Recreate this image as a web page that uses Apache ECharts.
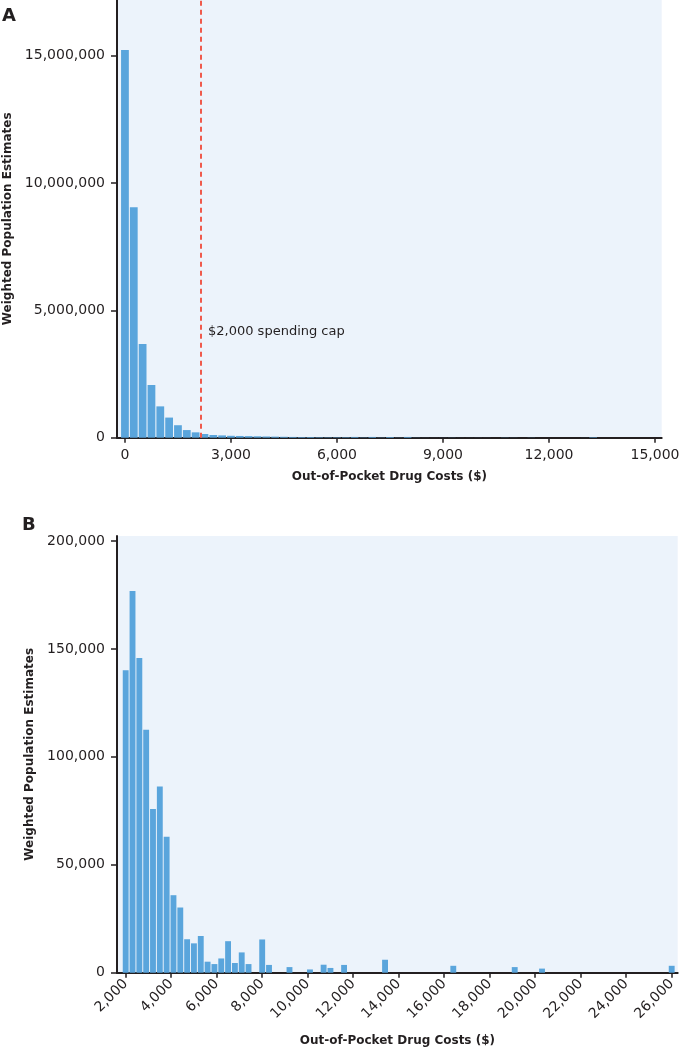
<!DOCTYPE html>
<html>
<head>
<meta charset="utf-8">
<script src="https://cdn.jsdelivr.net/npm/echarts@6/dist/echarts.min.js"></script>
<style>
  html, body { margin: 0; padding: 0; background: #ffffff; }
  #chart { width: 679px; height: 1050px; }
</style>
</head>
<body>
<div id="chart"></div>
<script>
// Panel A: bins of $250 (bin centers), weighted population estimates
const binsA = [];
for (let v = 0; v <= 15000; v += 250) binsA.push(v);
const valuesA = [
  15220000, 9050000, 3680000, 2070000, 1230000, 790000, 490000, 300000,
  210000, 145000, 106000, 90000, 75000, 68000, 62000, 55000,
  48000, 42000, 36000, 30000, 26000, 28000, 20000, 16000,
  18000, 20000, 30000, 12000, 30000, 10000, 28000, 8000,
  30000, 6000, 3000, 2000, 3000, 5000, 2000, 2000,
  3000, 2000, 1000, 6000, 4000, 1000, 5000, 1000,
  1000, 1000, 1000, 1000, 2000, 20000, 1000, 1000,
  1000, 1000, 1000, 1000, 1000
];
const ticksAx = [0, 3000, 6000, 9000, 12000, 15000];
const ticksAy = [0, 5000000, 10000000, 15000000];
const capValue = 2150;
const capLabel = '$2,000 spending cap';

// Panel B: bins of $300 from $2,000 to $26,000
const binsB = [];
for (let v = 2000; v <= 26000; v += 300) binsB.push(v);
const valuesB = [
  140100, 176800, 145800, 112600, 75800, 86200, 63000, 35900, 30200, 15500,
  13600, 17000, 5100, 4000, 6600, 14600, 4500, 9400, 4000, 0,
  15400, 3600, 0, 0, 2600, 0, 0, 1500, 0, 3700,
  2200, 0, 3600, 0, 0, 0, 0, 0, 6000, 0,
  0, 0, 0, 0, 0, 0, 0, 0, 3200, 0,
  0, 0, 0, 0, 0, 0, 0, 2600, 0, 0,
  0, 1900, 0, 0, 0, 0, 0, 0, 0, 0,
  0, 0, 0, 0, 0, 0, 0, 0, 0, 0,
  3200
];
const ticksBx = [2000, 4000, 6000, 8000, 10000, 12000, 14000, 16000, 18000, 20000, 22000, 24000, 26000];
const ticksBy = [0, 50000, 100000, 150000, 200000];

const xName = 'Out-of-Pocket Drug Costs ($)';
const yName = 'Weighted Population Estimates';

const FONT = 'DejaVu Sans';
const INK = '#231f20';
const BAR = '#5aa5dc';
const BG = '#ecf3fb';
const fmt = v => Math.round(v).toLocaleString('en-US');

function axisCommon() {
  return {
    axisLine: { show: true, onZero: false, lineStyle: { color: INK, width: 2 } },
    splitLine: { show: false },
    nameTextStyle: { fontFamily: FONT, fontWeight: 'bold', fontSize: 12, color: INK },
  };
}

const chart = echarts.init(document.getElementById('chart'), null, { renderer: 'canvas' });

const option = {
  animation: false,
  backgroundColor: '#ffffff',
  grid: [
    { left: 117, right: 17.3, top: 0, height: 437.7, show: true, backgroundColor: BG, borderWidth: 0, containLabel: false, outerBoundsMode: 'none' },
    { left: 117, right: 1.3, top: 536, height: 436.7, show: true, backgroundColor: BG, borderWidth: 0, containLabel: false, outerBoundsMode: 'none' }
  ],
  xAxis: [
    Object.assign(axisCommon(), {
      type: 'value', gridIndex: 0, min: -225, max: 15190,
      name: xName, nameLocation: 'middle', nameGap: 33,
      axisTick: { show: true, length: 5, customValues: ticksAx, lineStyle: { color: INK, width: 1.5 } },
      axisLabel: { customValues: ticksAx, formatter: fmt, fontFamily: FONT, fontSize: 14, color: INK, margin: 11 }
    }),
    Object.assign(axisCommon(), {
      type: 'value', gridIndex: 1, min: 1618, max: 26264,
      name: xName, nameLocation: 'middle', nameGap: 62,
      axisTick: { show: true, length: 5, customValues: ticksBx, lineStyle: { color: INK, width: 1.5 } },
      axisLabel: { customValues: ticksBx, formatter: fmt, rotate: 45, fontFamily: FONT, fontSize: 14, color: INK, margin: 9 }
    })
  ],
  yAxis: [
    Object.assign(axisCommon(), {
      type: 'value', gridIndex: 0, min: 0, max: 17185000,
      name: yName, nameLocation: 'middle', nameGap: 103,
      axisTick: { show: true, length: 6, customValues: ticksAy, lineStyle: { color: INK, width: 1.5 } },
      axisLabel: { customValues: ticksAy, formatter: fmt, fontFamily: FONT, fontSize: 14, color: INK, margin: 12 }
    }),
    Object.assign(axisCommon(), {
      type: 'value', gridIndex: 1, min: 0, max: 202300,
      name: yName, nameLocation: 'middle', nameGap: 81,
      axisTick: { show: true, length: 6, customValues: ticksBy, lineStyle: { color: INK, width: 1.5 } },
      axisLabel: { customValues: ticksBy, formatter: fmt, fontFamily: FONT, fontSize: 14, color: INK, margin: 12 }
    })
  ],
  series: [
    {
      type: 'bar', xAxisIndex: 0, yAxisIndex: 0,
      data: binsA.map((b, i) => [b, valuesA[i]]),
      barWidth: '88%',
      itemStyle: { color: BAR },
      markLine: {
        silent: true, symbol: 'none',
        label: { show: false },
        lineStyle: { color: '#ef5a4c', type: [5, 4], width: 2 },
        data: [{ xAxis: capValue }]
      }
    },
    {
      type: 'bar', xAxisIndex: 1, yAxisIndex: 1,
      data: binsB.map((b, i) => [b, valuesB[i]]),
      barWidth: '86%',
      itemStyle: { color: BAR }
    }
  ],
  graphic: [
    { type: 'text', left: 2, top: 7, style: { text: 'A', fontFamily: FONT, fontWeight: 'bold', fontSize: 18, fill: INK } },
    { type: 'text', left: 22, top: 516, style: { text: 'B', fontFamily: FONT, fontWeight: 'bold', fontSize: 18, fill: INK } },
    { type: 'text', left: 208, top: 325, style: { text: capLabel, fontFamily: FONT, fontSize: 13, fill: INK } }
  ]
};

chart.setOption(option);
</script>
</body>
</html>
